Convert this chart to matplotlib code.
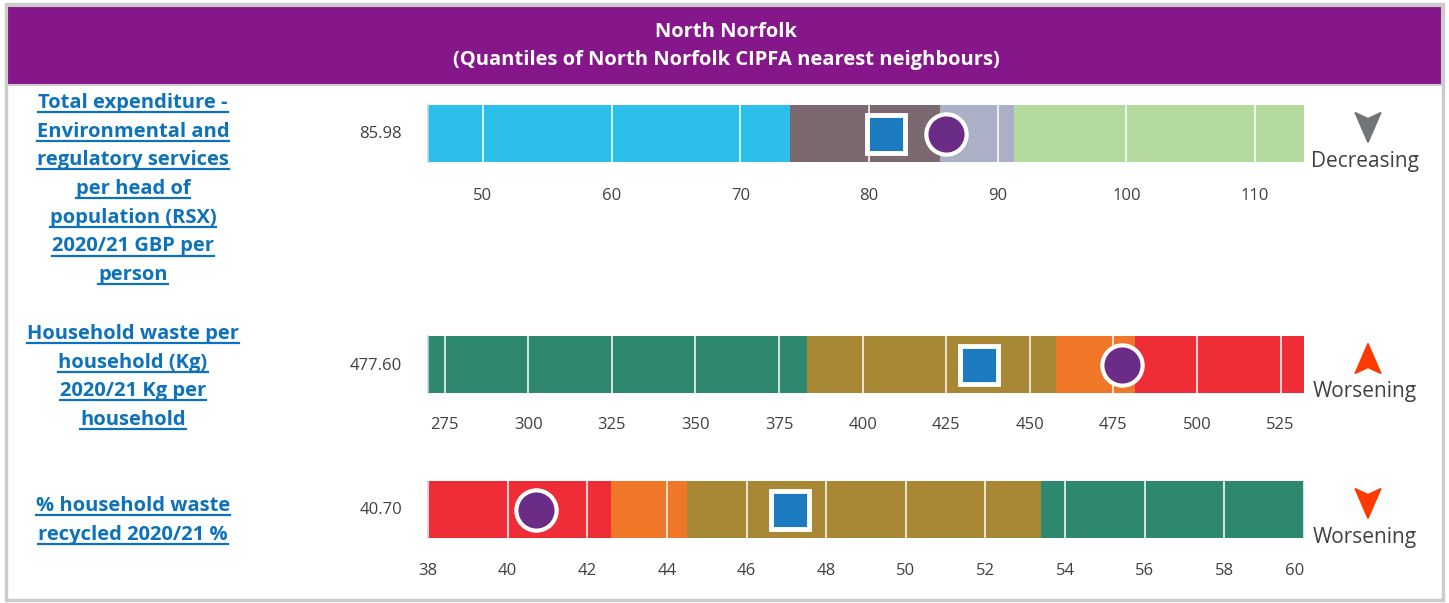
import numpy as np
import matplotlib
matplotlib.use("Agg")
import matplotlib.pyplot as plt
from matplotlib.patches import Rectangle, Polygon
from matplotlib.lines import Line2D

plt.rcParams['font.family'] = ['Open Sans', 'DejaVu Sans']

W, H = 1449, 603

header_lines = ["North Norfolk", "(Quantiles of North Norfolk CIPFA nearest neighbours)"]

# chart 1 - expenditure
exp_label = ["Total expenditure -", "Environmental and", "regulatory services",
             "per head of", "population (RSX)", "2020/21 GBP per", "person"]
exp_edges = [45.73, 73.85, 85.5, 91.26, 113.8]
exp_colors = ["#2BBFE9", "#7B6870", "#ABB0C7", "#B5DA9D"]
exp_ticks = [50, 60, 70, 80, 90, 100, 110]
exp_value = 85.98
exp_comp = 81.3
exp_trend = "Decreasing"

# chart 2 - household waste
waste_label = ["Household waste per", "household (Kg)", "2020/21 Kg per", "household"]
waste_edges = [270, 383.4, 457.9, 481.6, 532]
waste_colors = ["#2E8870", "#A98835", "#F07628", "#EE2D36"]
waste_ticks = [275, 300, 325, 350, 375, 400, 425, 450, 475, 500, 525]
waste_value = 477.60
waste_comp = 434.9
waste_trend = "Worsening"

# chart 3 - recycled
rec_label = ["% household waste", "recycled 2020/21 %"]
rec_edges = [38, 42.6, 44.5, 53.4, 60]
rec_colors = ["#EE2D36", "#F07628", "#A98835", "#2E8870"]
rec_ticks = [38, 40, 42, 44, 46, 48, 50, 52, 54, 56, 58, 60]
rec_value = 40.70
rec_comp = 47.1
rec_trend = "Worsening"

fig = plt.figure(figsize=(W / 100, H / 100), dpi=100)
bg = fig.add_axes([0, 0, 1, 1])
bg.set_xlim(0, W)
bg.set_ylim(H, 0)
bg.axis('off')

# frame + header
bg.add_patch(Rectangle((6, 4), 1437, 596, facecolor='white', edgecolor='#CCCCCC', lw=2.5))
bg.add_patch(Rectangle((7, 6), 1435, 79, facecolor='#86178A', edgecolor='#CCCCCC', lw=1.5))
bg.text(726, 32, header_lines[0], color='white', fontsize=14.5, fontweight='bold', ha='center', va='center')
bg.text(726, 60, header_lines[1], color='white', fontsize=14.5, fontweight='bold', ha='center', va='center')

label_texts = []


def draw_chart(top, label, label_y, edges, colors, ticks, value, comp, trend, arrow_up, arrow_col, tick_y):
    bar_top, bar_bot = top, top + 57
    ax = fig.add_axes([428 / W, 1 - bar_bot / H, 876 / W, 57 / H])
    for i in range(len(colors)):
        ax.barh(0, edges[i + 1] - edges[i], left=edges[i], height=1, color=colors[i], zorder=1)
    ax.set_xlim(edges[0], edges[-1])
    ax.set_ylim(-0.5, 0.5)
    ax.set_yticks([])
    ax.set_xticks(ticks)
    ax.tick_params(axis='x', length=0, pad=tick_y - bar_bot - 9, labelsize=12, labelcolor='#404040')
    for t in ticks:
        ax.axvline(t, color='white', lw=1.3, alpha=0.85, zorder=2)
    for s in ['top', 'right', 'bottom']:
        ax.spines[s].set_visible(False)
    ax.spines['left'].set_color('#C8D4E0')
    ax.spines['left'].set_linewidth(1.2)
    ax.plot([comp], [0], marker='s', ms=28, color='#1C7BC0', mec='white', mew=3.5, zorder=5, clip_on=False)
    ax.plot([value], [0], marker='o', ms=29, color='#6B2C87', mec='white', mew=3, zorder=6, clip_on=False)
    if ticks[-1] == edges[-1]:
        ax.get_xticklabels()[-1].set_horizontalalignment('right')

    # label on the left
    for i, line in enumerate(label):
        t = bg.text(133, label_y + i * 28.7, line, color='#0E72BA', fontsize=14.5, fontweight='bold',
                    ha='center', va='center')
        label_texts.append(t)
    # value
    mid = (bar_top + bar_bot) / 2
    bg.text(402, mid + 1, f"{value:.2f}", color='#404040', fontsize=12, ha='right', va='center')
    # trend arrow
    cx = 1368
    if arrow_up:
        ay = mid - 5
        pts = [(cx, ay - 16), (cx + 13, ay + 14), (cx, ay + 8), (cx - 13, ay + 14)]
    else:
        ay = mid - 7
        pts = [(cx - 13, ay - 14), (cx, ay - 8), (cx + 13, ay - 14), (cx, ay + 16)]
    bg.add_patch(Polygon(pts, closed=True, color=arrow_col))
    bg.text(1365, bar_bot - 1, trend, color='#404040', fontsize=15, ha='center', va='center')


draw_chart(105, exp_label, 103, exp_edges, exp_colors, exp_ticks, exp_value, exp_comp,
           exp_trend, False, '#707477', 190)
draw_chart(336, waste_label, 334, waste_edges, waste_colors, waste_ticks, waste_value, waste_comp,
           waste_trend, True, '#FF3A00', 419)
draw_chart(481, rec_label, 506, rec_edges, rec_colors, rec_ticks, rec_value, rec_comp,
           rec_trend, False, '#FF3A00', 565)

# underline the link-style labels
fig.canvas.draw()
r = fig.canvas.get_renderer()
inv = bg.transData.inverted()
for t in label_texts:
    bb = t.get_window_extent(r)
    (x0, y0), (x1, y1) = inv.transform([(bb.x0, bb.y0), (bb.x1, bb.y1)])
    bg.add_line(Line2D([x0, x1], [y0 - 1, y0 - 1], color='#0E72BA', lw=1.6))

fig.savefig("out.png", dpi=100)
